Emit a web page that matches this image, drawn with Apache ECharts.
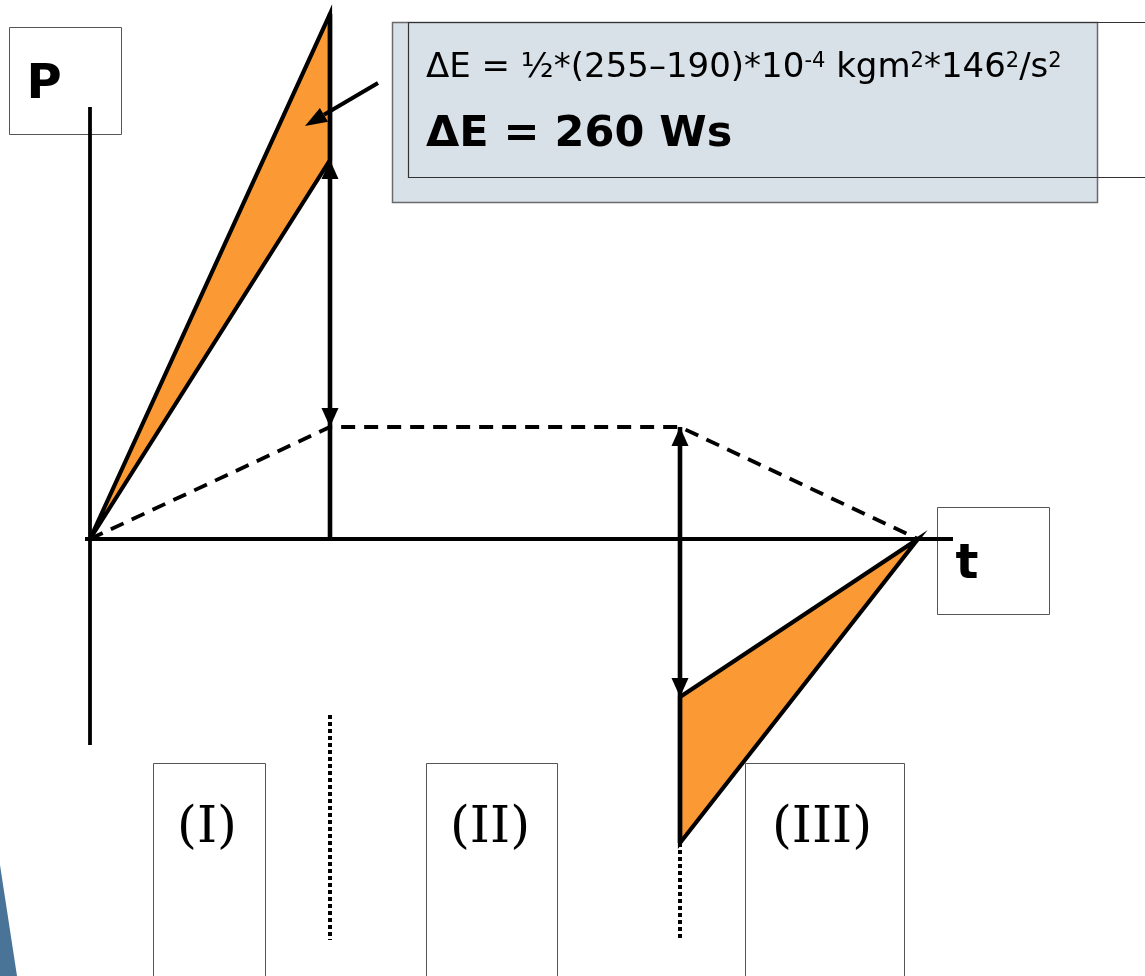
<!DOCTYPE html>
<html>
<head>
<meta charset="utf-8">
<title>P(t) – Energiebilanz</title>
<script src="https://cdn.jsdelivr.net/npm/echarts@6/dist/echarts.min.js"></script>
<style>
  html, body { margin: 0; padding: 0; background: #fff; }
  #chart { width: 1145px; height: 976px; }
</style>
</head>
<body>
<div id="chart"></div>
<script>
// Axis extents (time axis at P = 0, power axis at t = 0)
const tAxisExtent = [-0.05, 8.63];
const pAxisExtent = [4.32, -2.06];

// Phase boundaries t1, t2, t3
const phaseTimes = [2.4, 5.9, 8.28];

// Dashed load power profile: ramp up, constant, ramp down
const loadProfileT = [0, 2.4, 5.9, 8.28];
const loadProfileP = [0, 1.12, 1.12, 0];

// Acceleration phase (I): motor power peak and inner edge at t1
const accelPeak = 5.25;
const accelInner = 3.79;

// Braking phase (III): power at t2, upper and lower corner
const brakeTop = -1.58;
const brakeBottom = -3.04;

// Dotted phase dividers [t, from P, to P]
const dividers = [
  [2.4, -1.76, -4.01],
  [5.9, -3.04, -4.01]
];

// Pointer from the note into the shaded energy area [t0, P0, t1, P1]
const pointer = [2.88, 4.56, 2.15, 4.13];

// Phase labels
const phaseLabels = ['(I)', '(II)', '(III)'];

const ORANGE = '#fb9a35';
const INK = '#000';

const accelArea = [[0, 0], [phaseTimes[0], accelPeak], [phaseTimes[0], accelInner]];
const brakeArea = [[phaseTimes[1], brakeTop], [phaseTimes[2], 0], [phaseTimes[1], brakeBottom]];

// Arrow heads on the power difference markers [t, P, direction]
const arrowHeads = [
  [phaseTimes[0], accelInner, 1],
  [phaseTimes[0], loadProfileP[1], -1],
  [phaseTimes[1], loadProfileP[2], 1],
  [phaseTimes[1], brakeTop, -1]
];

const chart = echarts.init(document.getElementById('chart'), null, { renderer: 'canvas' });

function lineSeries(points, style) {
  return {
    type: 'line',
    data: points,
    symbol: 'none',
    clip: false,
    silent: true,
    animation: false,
    lineStyle: Object.assign({ color: INK, width: 4, cap: 'butt', join: 'miter' }, style || {}),
    z: 3
  };
}

function polygonSeries(points, z) {
  return {
    type: 'custom',
    coordinateSystem: 'cartesian2d',
    data: [[0, 0]],
    clip: false,
    silent: true,
    z: z,
    renderItem: function (params, api) {
      return {
        type: 'polygon',
        shape: { points: points.map(function (p) { return api.coord(p); }) },
        style: { fill: ORANGE, stroke: INK, lineWidth: 4.2, lineJoin: 'miter' }
      };
    }
  };
}

const option = {
  animation: false,
  backgroundColor: '#fff',
  grid: { left: 0, right: 0, top: 0, bottom: 0 },
  xAxis: { type: 'value', min: -0.9, max: 10.55, show: false },
  yAxis: { type: 'value', min: -4.37, max: 5.39, show: false },
  series: [
    // shaded energy areas
    polygonSeries(accelArea, 2),
    polygonSeries(brakeArea, 2),
    // axes
    lineSeries([[tAxisExtent[0], 0], [tAxisExtent[1], 0]], { width: 3.8 }),
    lineSeries([[0, pAxisExtent[0]], [0, pAxisExtent[1]]], { width: 3.8 }),
    // load profile (dashed)
    lineSeries(loadProfileT.map(function (t, i) { return [t, loadProfileP[i]]; }),
      { width: 3.8, type: [14, 9] }),
    // vertical markers at t1 and t2
    lineSeries([[phaseTimes[0], 0], [phaseTimes[0], accelPeak]], { width: 4.6 }),
    lineSeries([[phaseTimes[1], loadProfileP[2]], [phaseTimes[1], brakeBottom]], { width: 4.6 }),
    // dotted phase dividers
    lineSeries([[dividers[0][0], dividers[0][1]], [dividers[0][0], dividers[0][2]]], { width: 4, type: [4, 3] }),
    lineSeries([[dividers[1][0], dividers[1][1]], [dividers[1][0], dividers[1][2]]], { width: 4, type: [4, 3] }),
    // arrow heads
    {
      type: 'custom',
      coordinateSystem: 'cartesian2d',
      data: arrowHeads,
      clip: false,
      silent: true,
      z: 5,
      renderItem: function (params, api) {
        const p = api.coord([api.value(0), api.value(1)]);
        const d = api.value(2);
        const len = 19, half = 8.5;
        return {
          type: 'polygon',
          shape: { points: [[p[0], p[1]], [p[0] - half, p[1] + d * len], [p[0] + half, p[1] + d * len]] },
          style: { fill: INK }
        };
      }
    },
    // pointer from note to area
    {
      type: 'custom',
      coordinateSystem: 'cartesian2d',
      data: [pointer],
      clip: false,
      silent: true,
      z: 5,
      renderItem: function (params, api) {
        const a = api.coord([api.value(0), api.value(1)]);
        const b = api.coord([api.value(2), api.value(3)]);
        const ang = Math.atan2(b[1] - a[1], b[0] - a[0]);
        const len = 22, half = 8;
        const bx = b[0] - len * Math.cos(ang), by = b[1] - len * Math.sin(ang);
        const nx = -Math.sin(ang), ny = Math.cos(ang);
        return {
          type: 'group',
          children: [
            { type: 'line', shape: { x1: a[0], y1: a[1], x2: bx, y2: by }, style: { stroke: INK, lineWidth: 4 } },
            { type: 'polygon', shape: { points: [b, [bx + nx * half, by + ny * half], [bx - nx * half, by - ny * half]] }, style: { fill: INK } }
          ]
        };
      }
    }
  ],
  graphic: [
    // slide accent in the lower left corner
    { type: 'polygon', shape: { points: [[0, 865], [17, 976], [0, 976]] }, style: { fill: '#4a7398' }, z: 1 },
    // axis name boxes
    { type: 'rect', shape: { x: 9.5, y: 27.5, width: 112, height: 107 }, style: { fill: 'none', stroke: '#555', lineWidth: 1 }, z: 1 },
    { type: 'text', x: 44, y: 86, style: { text: 'P', font: 'bold 48px "DejaVu Sans"', fill: INK, align: 'center', verticalAlign: 'middle' }, z: 1 },
    { type: 'rect', shape: { x: 937.5, y: 507.5, width: 112, height: 107 }, style: { fill: 'none', stroke: '#555', lineWidth: 1 }, z: 1 },
    { type: 'text', x: 967, y: 566, style: { text: 't', font: 'bold 48px "DejaVu Sans"', fill: INK, align: 'center', verticalAlign: 'middle' }, z: 1 },
    // phase label boxes
    { type: 'rect', shape: { x: 153.5, y: 763.5, width: 112, height: 230 }, style: { fill: 'none', stroke: '#555', lineWidth: 1 }, z: 1 },
    { type: 'rect', shape: { x: 426.5, y: 763.5, width: 131, height: 230 }, style: { fill: 'none', stroke: '#555', lineWidth: 1 }, z: 1 },
    { type: 'rect', shape: { x: 745.5, y: 763.5, width: 159, height: 230 }, style: { fill: 'none', stroke: '#555', lineWidth: 1 }, z: 1 },
    { type: 'text', x: 207, y: 829, style: { text: phaseLabels[0], font: '51px "DejaVu Serif"', fill: INK, align: 'center', verticalAlign: 'middle' }, z: 1 },
    { type: 'text', x: 490, y: 829, style: { text: phaseLabels[1], font: '51px "DejaVu Serif"', fill: INK, align: 'center', verticalAlign: 'middle' }, z: 1 },
    { type: 'text', x: 822, y: 829, style: { text: phaseLabels[2], font: '51px "DejaVu Serif"', fill: INK, align: 'center', verticalAlign: 'middle' }, z: 1 },
    // energy note
    { type: 'rect', shape: { x: 392.5, y: 22.5, width: 705, height: 180 }, style: { fill: '#d8e0e8', stroke: '#6a6a6a', lineWidth: 1.5 }, z: 10 },
    { type: 'rect', shape: { x: 408.5, y: 22.5, width: 760, height: 155 }, style: { fill: 'none', stroke: '#333', lineWidth: 1.2 }, z: 11 },
    {
      type: 'text', x: 426, y: 68, z: 12,
      style: {
        text: 'ΔE = ½*(255–190)*10{s|-4} kgm{s|2}*146{s|2}/s{s|2}',
        font: '34px "DejaVu Sans"', fill: INK, verticalAlign: 'middle',
        rich: { s: { font: '21px "DejaVu Sans"', fill: INK, verticalAlign: 'top', lineHeight: 21 } }
      }
    },
    {
      type: 'text', x: 426, y: 135, z: 12,
      style: { text: 'ΔE = 260 Ws', font: 'bold 43px "DejaVu Sans"', fill: INK, verticalAlign: 'middle' }
    }
  ]
};

chart.setOption(option);
</script>
</body>
</html>
